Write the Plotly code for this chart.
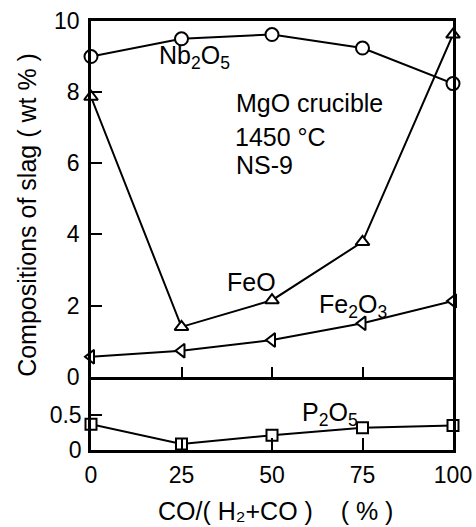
import plotly.graph_objects as go

x_vals = [0, 25, 50, 75, 100]
nb2o5 = [9.0, 9.5, 9.62, 9.24, 8.24]
feo = [7.87, 1.40, 2.15, 3.79, 9.62]
fe2o3 = [0.56, 0.73, 1.03, 1.50, 2.13]
p2o5 = [0.37, 0.086, 0.21, 0.32, 0.35]

x_ticks = [0, 25, 50, 75, 100]
y_top_ticks = [0, 2, 4, 6, 8, 10]
y_bot_ticks = [0, 0.5]
y_bot_text = ["0", "0.5"]

FONT = "Liberation Sans"
BLACK = "black"

fig = go.Figure()

def add(series, symbol, size, yaxis, xaxis):
    fig.add_trace(go.Scatter(
        x=x_vals, y=series, mode="lines+markers",
        line=dict(color=BLACK, width=2),
        marker=dict(symbol=symbol, size=size, color="white",
                    line=dict(color=BLACK, width=2)),
        cliponaxis=False, showlegend=False,
        xaxis=xaxis, yaxis=yaxis))

add(nb2o5, "circle", 13, "y", "x2")
add(feo, "triangle-up", 12, "y", "x2")
add(fe2o3, "triangle-left", 12, "y", "x2")
add(p2o5, "square", 11, "y2", "x")

split = 0.1709
axis_common = dict(showline=True, linecolor=BLACK, linewidth=2.5,
                   showgrid=False, zeroline=False, ticks="inside",
                   tickcolor=BLACK, tickwidth=2, automargin=False,
                   ticklabeloverflow="allow",
                   tickfont=dict(family=FONT, size=23, color=BLACK))

fig.update_layout(
    width=476, height=527,
    margin=dict(l=91, r=23, t=21, b=77),
    paper_bgcolor="white", plot_bgcolor="white",
    xaxis=dict(domain=[0, 1], anchor="y2", range=[0, 100], mirror=False,
               tickvals=x_ticks, ticklen=12, ticklabelstandoff=3,
               **axis_common),
    xaxis2=dict(domain=[0, 1], anchor="y", range=[0, 100], matches="x",
                mirror=True, tickvals=[25, 50, 75], ticklen=10,
                showticklabels=False, **axis_common),
    yaxis=dict(domain=[split, 1], anchor="x2", range=[0, 10], mirror=True,
               tickvals=y_top_ticks, ticklen=11, ticklabelstandoff=4,
               **axis_common),
    yaxis2=dict(domain=[0, split], anchor="x", range=[0, 1.05], mirror=True,
                tickvals=y_bot_ticks, ticktext=y_bot_text, ticklen=11,
                ticklabelstandoff=2, **axis_common),
)

def ann(text, x, y, size=25, xanchor="center", angle=0, yanchor="middle"):
    fig.add_annotation(text=text, x=x, y=y, xref="paper", yref="paper",
                       showarrow=False, xanchor=xanchor, yanchor=yanchor,
                       textangle=angle,
                       font=dict(family=FONT, size=size, color=BLACK))

ann("Nb<sub>2</sub>O<sub>5</sub>", 0.287, 0.915)
ann("MgO crucible", 0.395, 0.810, xanchor="left")
ann("1450 °C", 0.392, 0.730, xanchor="left")
ann("NS-9", 0.395, 0.664, xanchor="left")
ann("FeO", 0.442, 0.392)
ann("Fe<sub>2</sub>O<sub>3</sub>", 0.724, 0.335)
ann("P<sub>2</sub>O<sub>5</sub>", 0.660, 0.083)
ann("Compositions of slag ( wt % )", -0.177, 0.548, angle=-90)
ann("CO/( H₂+CO )    ( % )", 0.511, -0.143)

fig.write_html("out.html", config={"displayModeBar": False},
               post_script="document.body.style.margin='0px';")
